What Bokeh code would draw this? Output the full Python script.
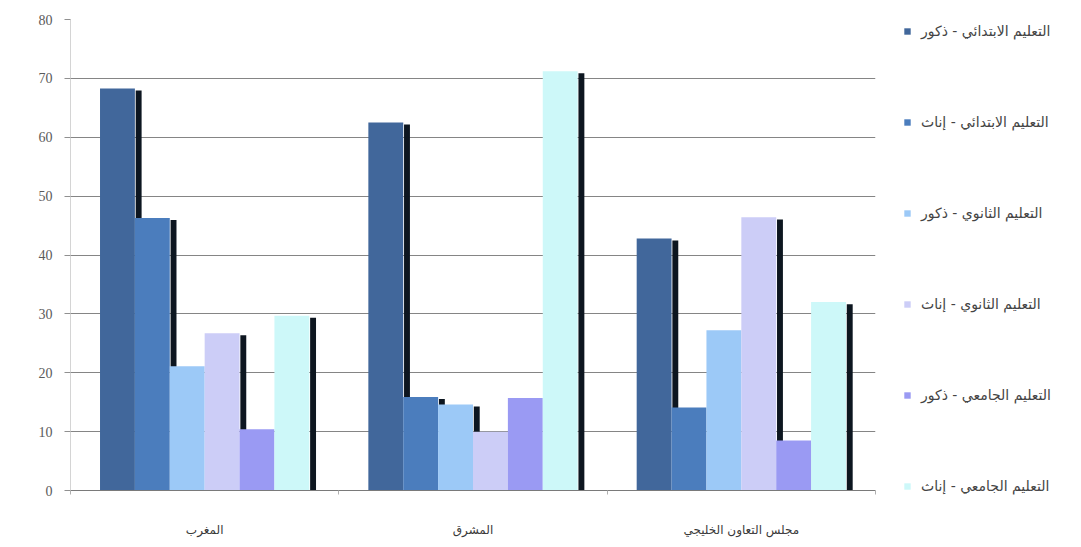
from bokeh.plotting import figure
from bokeh.models import Legend, LegendItem, FixedTicker, ColumnDataSource, Range1d
from bokeh.embed import file_html
from bokeh.resources import INLINE

categories = ["المغرب", "المشرق", "مجلس التعاون الخليجي"]
series_names = [
    "التعليم الابتدائي - ذكور",
    "التعليم الابتدائي - إناث",
    "التعليم الثانوي - ذكور",
    "التعليم الثانوي - إناث",
    "التعليم الجامعي - ذكور",
    "التعليم الجامعي - إناث",
]
primary_male = [68.3, 62.5, 42.8]
primary_female = [46.3, 15.9, 14.1]
secondary_male = [21.1, 14.6, 27.2]
secondary_female = [26.7, 10.0, 46.4]
tertiary_male = [10.4, 15.7, 8.5]
tertiary_female = [29.7, 71.2, 32.0]
y_ticks = [0, 10, 20, 30, 40, 50, 60, 70, 80]

series_values = [primary_male, primary_female, secondary_male,
                 secondary_female, tertiary_male, tertiary_female]
bar_colors = ["#41679b", "#4b7dbd", "#9cc9f7", "#cccdf7", "#9a9af3", "#cdf8f9"]

BAR_W = 0.13
SHADOW_W = 0.022

p = figure(frame_width=805, frame_height=471, output_backend="svg",
           toolbar_location=None,
           x_range=Range1d(0, 3), y_range=Range1d(0, 80),
           min_border_left=70, min_border_top=19, min_border_bottom=57,
           min_border_right=0)
p.outline_line_color = None
p.background_fill_color = "white"
p.border_fill_color = "white"

centers = [i + 0.5 for i in range(len(categories))]

# shadows first (so the next bar covers them)
for i, vals in enumerate(series_values):
    off = (i - 2.5) * BAR_W
    src = ColumnDataSource(dict(
        x=[c + off + BAR_W / 2 + SHADOW_W / 2 + 0.003 for c in centers],
        top=[v - 0.35 for v in vals]))
    p.vbar(x="x", top="top", bottom=0, width=SHADOW_W, source=src,
           fill_color="#0d1620", line_color=None)

items = []
for i, vals in enumerate(series_values):
    off = (i - 2.5) * BAR_W
    src = ColumnDataSource(dict(x=[c + off for c in centers], top=vals))
    r = p.vbar(x="x", top="top", bottom=0, width=BAR_W, source=src,
               fill_color=bar_colors[i], line_color=None)
    items.append(LegendItem(label=series_names[i], renderers=[r]))

legend = Legend(items=items, location=(28, -6), orientation="vertical",
                glyph_width=8, glyph_height=8, label_height=20,
                spacing=71, label_standoff=10, padding=0, margin=24,
                border_line_color=None, background_fill_alpha=0,
                label_text_font="DejaVu Sans", label_text_font_size="14px",
                label_text_color="#444444")
p.add_layout(legend, "right")

# y axis
p.yaxis.ticker = FixedTicker(ticks=y_ticks)
p.yaxis.axis_line_color = "#d4d4d4"
p.yaxis.major_tick_line_color = "#909090"
p.yaxis.major_tick_out = 6
p.yaxis.major_tick_in = 0
p.yaxis.minor_tick_line_color = None
p.yaxis.major_label_text_font = "Liberation Serif"
p.yaxis.major_label_text_font_size = "14px"
p.yaxis.major_label_text_color = "#5a5a5a"
p.yaxis.major_label_standoff = 12

# x axis
p.xaxis.ticker = FixedTicker(ticks=centers, minor_ticks=[0, 1, 2, 3])
p.xaxis.major_label_overrides = {c: name for c, name in zip(centers, categories)}
p.xaxis.major_tick_line_color = None
p.xaxis.minor_tick_line_color = "#b0b0b0"
p.xaxis.minor_tick_out = 4
p.xaxis.minor_tick_in = 0
p.xaxis.axis_line_color = "#7a7a7a"
p.xaxis.major_label_text_font = "DejaVu Sans"
p.xaxis.major_label_text_font_size = "12px"
p.xaxis.major_label_text_color = "#3a3a3a"
p.xaxis.major_label_standoff = 26

p.xgrid.grid_line_color = None
p.ygrid.grid_line_color = "#858585"
p.ygrid.grid_line_width = 1

open("out.html", "w").write(file_html(p, INLINE))
